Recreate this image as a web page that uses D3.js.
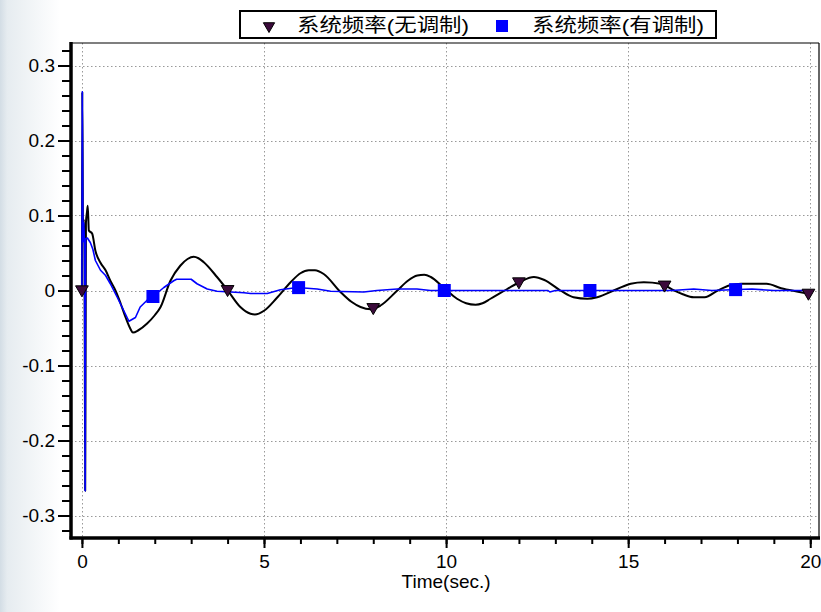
<!DOCTYPE html>
<html>
<head>
<meta charset="utf-8">
<script src="https://cdn.jsdelivr.net/npm/d3@7"></script>
<style>
  body { margin: 0; background: #fff; }
  svg { display: block; }
</style>
</head>
<body>
<div id="chart"></div>
<script>
// series values [time, value]
const freqNoMod = [
  [0,0],[0.01,0.265],[0.03,0.07],[0.05,0.095],[0.07,0.06],[0.09,-0.267],[0.11,0.09],[0.14,0.105],
  [0.16,0.113],[0.19,0.08],[0.28,0.076],[0.37,0.053],[0.51,0.037],[0.65,0.027],[0.78,0.013],
  [0.92,0.0],[1.06,-0.017],[1.2,-0.036],[1.33,-0.051],[1.4,-0.056],[1.55,-0.053],[1.79,-0.044],
  [2.0,-0.033],[2.16,-0.022],[2.43,0.013],[2.7,0.033],[2.9,0.042],[3.07,0.045],[3.2,0.043],
  [3.34,0.038],[3.71,0.018],[3.99,0.001],[4.35,-0.022],[4.63,-0.031],[4.75,-0.032],[5.0,-0.027],
  [5.35,-0.01],[5.73,0.011],[6.0,0.023],[6.23,0.027],[6.4,0.027],[6.64,0.022],[7.1,-0.002],
  [7.4,-0.015],[7.65,-0.022],[7.93,-0.025],[8.2,-0.02],[8.66,0],[8.95,0.013],[9.21,0.02],
  [9.4,0.021],[9.58,0.018],[9.93,0.004],[10.3,-0.011],[10.55,-0.017],[10.81,-0.019],[11.0,-0.017],
  [11.22,-0.011],[11.68,0.002],[12.05,0.012],[12.41,0.018],[12.7,0.014],[13.14,0],[13.5,-0.009],
  [13.88,-0.011],[14.15,-0.009],[14.7,0.002],[15.07,0.009],[15.43,0.011],[15.89,0.009],[16.26,0],
  [16.5,-0.005],[16.8,-0.009],[17.1,-0.009],[17.46,0],[17.8,0.007],[18.1,0.009],[18.8,0.009],
  [19.2,0.003],[19.7,-0.002],[20.0,-0.005]
];
const freqMod = [
  [0,0],[0.01,0.265],[0.03,0.065],[0.05,0.09],[0.07,0.065],[0.09,-0.267],[0.1,0.069],[0.15,0.07],
  [0.23,0.064],[0.3,0.055],[0.37,0.04],[0.51,0.027],[0.65,0.02],[0.78,0.009],[0.97,-0.009],
  [1.15,-0.027],[1.29,-0.041],[1.47,-0.036],[1.6,-0.022],[1.79,-0.013],[1.95,-0.008],[2.25,0.004],
  [2.52,0.013],[2.6,0.015],[3.0,0.015],[3.16,0.009],[3.44,0.002],[3.71,-0.001],[4.08,-0.002],
  [4.45,-0.003],[4.63,-0.004],[5.09,-0.004],[5.45,0.001],[5.91,0.004],[6.46,0.002],[6.83,-0.001],
  [7.74,-0.002],[8.1,0],[8.66,0.002],[9.2,0.002],[9.57,0],[12.8,0],[12.85,-0.002],[13.0,0],
  [16.2,0],[16.8,0.002],[17.3,0],[18.4,0.002],[19.0,0],[20,0]
];
const markTimesNoMod = [0, 4, 8, 12, 16, 19.95];
const markTimesMod = [1.95, 5.95, 9.95, 13.95, 17.95];
const seriesNames = ["系统频率(无调制)", "系统频率(有调制)"];
const xTicks = [0, 5, 10, 15, 20];
const yTicks = [-0.3, -0.2, -0.1, 0, 0.1, 0.2, 0.3];

const W = 821, H = 612;
const plotL = 71, plotR = 819, plotT = 43, plotB = 538;

const svg = d3.select("#chart").append("svg")
    .attr("width", W).attr("height", H);

// faint slide background on the left
const defs = svg.append("defs");
const grad = defs.append("linearGradient").attr("id", "bg").attr("x1", 0).attr("x2", 1);
grad.append("stop").attr("offset", "0").attr("stop-color", "#d3dde5");
grad.append("stop").attr("offset", "0.12").attr("stop-color", "#e6ecf0");
grad.append("stop").attr("offset", "1").attr("stop-color", "#ffffff");
svg.append("rect").attr("x", 0).attr("y", 0).attr("width", 60).attr("height", H)
    .attr("fill", "url(#bg)");

const x = d3.scaleLinear().domain([-0.3, 20.24]).range([plotL, plotR]);
const y = d3.scaleLinear().domain([-0.33, 0.33]).range([plotB, plotT]);

// plot area
svg.append("rect").attr("x", plotL).attr("y", plotT)
    .attr("width", plotR - plotL).attr("height", plotB - plotT).attr("fill", "#fff");

// grid
const grid = svg.append("g").attr("stroke", "#999").attr("stroke-width", 1)
    .attr("stroke-dasharray", "1.5,2.5");
grid.selectAll(".gx").data(xTicks).enter().append("line")
    .attr("x1", d => Math.round(x(d)) + 0.5).attr("x2", d => Math.round(x(d)) + 0.5)
    .attr("y1", plotT).attr("y2", plotB);
grid.selectAll(".gy").data(yTicks).enter().append("line")
    .attr("y1", d => Math.round(y(d)) + 0.5).attr("y2", d => Math.round(y(d)) + 0.5)
    .attr("x1", plotL).attr("x2", plotR);

// lines
const line = d3.line().x(d => x(d[0])).y(d => y(d[1]));
const smooth = d3.line().x(d => x(d[0])).y(d => y(d[1])).curve(d3.curveMonotoneX);
svg.append("path").datum(freqNoMod).attr("d", smooth)
    .attr("fill", "none").attr("stroke", "#000").attr("stroke-width", 2)
    .attr("stroke-linejoin", "round");
svg.append("path").datum(freqMod).attr("d", line)
    .attr("fill", "none").attr("stroke", "#0000ff").attr("stroke-width", 1.6)
    .attr("stroke-linejoin", "round");

// frame
svg.append("line").attr("x1", plotL).attr("x2", plotR).attr("y1", plotT).attr("y2", plotT)
    .attr("stroke", "#000").attr("stroke-width", 1.2);
svg.append("line").attr("x1", plotR).attr("x2", plotR).attr("y1", plotT).attr("y2", plotB)
    .attr("stroke", "#000").attr("stroke-width", 1.2);

// axes
const yAxis = svg.append("g").attr("transform", `translate(${plotL},0)`);
yAxis.call(d3.axisLeft(y).tickValues(d3.range(-32, 33, 2).map(v => v / 100))
    .tickSize(9).tickFormat(""));
yAxis.selectAll(".tick line").attr("stroke-width", 2);
const yMajor = svg.append("g").attr("transform", `translate(${plotL},0)`);
yMajor.call(d3.axisLeft(y).tickValues(yTicks).tickSize(13).tickPadding(3)
    .tickFormat(d => d === 0 ? "0" : d.toFixed(1)));
yMajor.selectAll(".tick line").attr("stroke-width", 2);
yMajor.selectAll(".tick text").attr("font-size", 19).attr("fill", "#000")
    .attr("font-family", "Liberation Sans, Arial, sans-serif");

const xAxis = svg.append("g").attr("transform", `translate(0,${plotB})`);
xAxis.call(d3.axisBottom(x).tickValues(d3.range(0, 21, 1)).tickSize(6).tickFormat(""));
xAxis.selectAll(".tick line").attr("stroke-width", 2);
const xMajor = svg.append("g").attr("transform", `translate(0,${plotB})`);
xMajor.call(d3.axisBottom(x).tickValues(xTicks).tickSize(10).tickPadding(7));
xMajor.selectAll(".tick line").attr("stroke-width", 2);
xMajor.selectAll(".tick text").attr("font-size", 19).attr("fill", "#000")
    .attr("font-family", "Liberation Sans, Arial, sans-serif");
svg.selectAll(".domain").remove();

svg.append("line").attr("x1", plotL).attr("x2", plotL).attr("y1", plotT - 1).attr("y2", plotB + 1.5)
    .attr("stroke", "#000").attr("stroke-width", 3.5);
svg.append("line").attr("x1", plotL - 1.5).attr("x2", plotR + 1).attr("y1", plotB).attr("y2", plotB)
    .attr("stroke", "#000").attr("stroke-width", 3.5);

svg.append("text").attr("x", x(10)).attr("y", 588).attr("text-anchor", "middle")
    .attr("font-size", 19).attr("font-family", "Liberation Sans, Arial, sans-serif")
    .text("Time(sec.)");

// markers
const interp = (data, t) => {
  const i = d3.bisector(d => d[0]).left(data, t);
  if (i <= 0) return data[0][1];
  if (i >= data.length) return data[data.length - 1][1];
  const a = data[i - 1], b = data[i];
  return a[1] + (b[1] - a[1]) * (t - a[0]) / (b[0] - a[0]);
};
const tri = d3.symbol().type(d3.symbolTriangle).size(70);
svg.selectAll(".tri").data(markTimesNoMod).enter().append("path")
    .attr("d", tri)
    .attr("transform", t => `translate(${x(t)},${y(interp(freqNoMod, t)) - 1}) rotate(180)`)
    .attr("fill", "#3b0a3b").attr("stroke", "#000").attr("stroke-width", 1);
svg.selectAll(".sq").data(markTimesMod).enter().append("rect")
    .attr("x", t => x(t) - 6.5).attr("y", t => y(interp(freqMod, t)) - 6.5)
    .attr("width", 13).attr("height", 13).attr("fill", "#0000ff");

// legend
const lg = svg.append("g");
lg.append("rect").attr("x", 240).attr("y", 11).attr("width", 476).attr("height", 27)
    .attr("fill", "#fff").attr("stroke", "#000").attr("stroke-width", 2);
lg.append("path").attr("d", d3.symbol().type(d3.symbolTriangle).size(55))
    .attr("transform", "translate(269,26) rotate(180)")
    .attr("fill", "#3b0a3b").attr("stroke", "#000").attr("stroke-width", 1);
lg.append("rect").attr("x", 496).attr("y", 20).attr("width", 12).attr("height", 12)
    .attr("fill", "#0000ff");
[[297, 0], [532, 1]].forEach(([tx, i]) => {
  lg.append("text").attr("x", tx).attr("y", 32)
    .attr("font-size", 19).attr("font-family", "Liberation Sans, Noto Sans CJK SC, sans-serif")
    .attr("textLength", 172).attr("lengthAdjust", "spacingAndGlyphs")
    .text(seriesNames[i]);
});
</script>
</body>
</html>
